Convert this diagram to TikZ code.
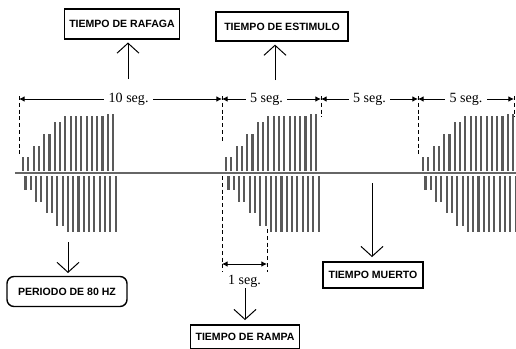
\documentclass[tikz,border=0pt]{standalone}
\usepackage{fontspec}
\setmainfont{Liberation Serif}
\newfontfamily\cajafont{Liberation Sans}
\usetikzlibrary{arrows.meta}

\begin{document}
\begin{tikzpicture}[x=0.025cm, y=-0.025cm, >={Latex[length=1.4mm,width=1.4mm]},
		caja/.style={draw, line width=1pt, font=\cajafont\bfseries\fontsize{7.5}{8}\selectfont, inner xsep=0.12cm, minimum height=0.75cm},
		cota/.style={<->, line width=0.7pt},
		guia/.style={line width=0.7pt, dash pattern=on 0.1cm off 0.07cm},
		flecha/.style={-{Straight Barb[length=0.25cm,width=0.55cm]}, line width=0.7pt, shorten >=2pt},
		barra/.style={line width=1.5pt, gray!70!black},
		etiqueta/.style={fill=white, inner xsep=3pt, font=\fontsize{10}{12}\selectfont}]
	\useasboundingbox (0,0) rectangle (516,349);

	% eje
	\draw[line width=1.6pt, gray!80!black] (15,173) -- (516,173);

	% rafagas
	\foreach \b in {23,226,423}
		\foreach \t/\d [count=\i from 0] in {157/190,157/190,146/202,146/202,134/213,134/213,122/226,122/226,
				116/232,116/232,116/232,116/232,116/232,116/232,116/232,116/232,114/232,114/232}{
			\draw[barra] ({\b+5.3*\i},171) -- ({\b+5.3*\i},\t);
			\draw[barra] ({\b+5.3*\i+2.5},176) -- ({\b+5.3*\i+2.5},\d);
		}

	% lineas guia
	\draw[guia] (19,96) -- (19,157);
	\draw[guia] (222,96) -- (222,143);
	\draw[guia] (321,96) -- (321,117);
	\draw[guia] (418,96) -- (418,155);
	\draw[guia] (514,96) -- (514,117);
	\draw[guia] (222,176) -- (222,272);
	\draw[guia] (267,229) -- (267,272);

	% cotas
	\coordinate (c0) at (19,99);
	\coordinate (c1) at (222,99);
	\coordinate (c2) at (321,99);
	\coordinate (c3) at (418,99);
	\coordinate (c4) at (514,99);
	\draw[cota] (c0) -- node[etiqueta, pos=0.54]{10 seg.} (c1);
	\draw[cota] (c1) -- node[etiqueta, pos=0.45]{5 seg.} (c2);
	\draw[cota] (c2) -- node[etiqueta]{5 seg.} (c3);
	\draw[cota] (c3) -- node[etiqueta]{5 seg.} (c4);
	\coordinate (r0) at (222,264);
	\coordinate (r1) at (267,264);
	\draw[cota] (r0) -- node[below=4pt, font=\fontsize{10}{12}\selectfont]{1 seg.} (r1);

	% cajas
	\node[caja, minimum width=2.75cm] (rafaga) at (122,24) {TIEMPO DE RAFAGA};
	\node[caja, minimum width=3.3cm, minimum height=0.73cm] (estimulo) at (282,26.5) {TIEMPO DE ESTIMULO};
	\node[caja, minimum width=3cm, rounded corners=5pt] (periodo) at (67,291.5) {PERIODO DE 80 HZ};
	\node[caja, minimum width=2.5cm, minimum height=0.65cm] (muerto) at (373,275) {TIEMPO MUERTO};
	\node[caja, minimum width=2.65cm, minimum height=0.6cm] (rampa) at (245,337) {TIEMPO DE RAMPA};

	% flechas
	\coordinate (f1) at (128,79);
	\coordinate (f2) at (275,80);
	\coordinate (f3) at (68,242);
	\coordinate (f4) at (245,288);
	\coordinate (f5) at (372,183);
	\draw[flecha] (f1) -- (f1 |- rafaga.south);
	\draw[flecha] (f2) -- (f2 |- estimulo.south);
	\draw[flecha] (f3) -- (f3 |- periodo.north);
	\draw[flecha, shorten >=3pt] (f4) -- (f4 |- rampa.north);
	\draw[flecha, shorten >=3pt] (f5) -- (f5 |- muerto.north);
\end{tikzpicture}
\end{document}
